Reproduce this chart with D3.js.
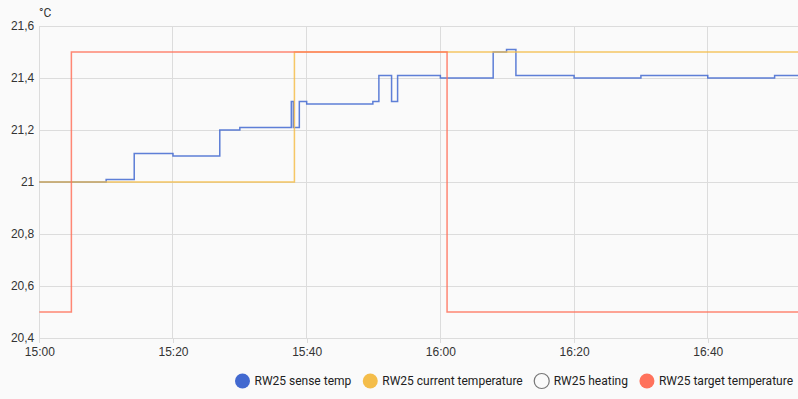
<!doctype html>
<html lang="en">
<head>
  <meta charset="utf-8">
  <title>RW25 temperatures</title>
  <style>
body {
  margin: 0;
  background: #fafafa;
}
svg {
  display: block;
  font-family: Roboto, sans-serif;
}
.grid line {
  stroke: #dcdcdc;
  shape-rendering: crispEdges;
}
.axis text {
  font-size: 12px;
  fill: #333;
}
.axis path {
  display: none;
}
.axis line {
  stroke: #dcdcdc;
  shape-rendering: crispEdges;
}
.series {
  fill: none;
  stroke-width: 1.5;
  stroke-opacity: 0.85;
}
.legend text {
  font-size: 12px;
  fill: #212121;
}
  </style>
</head>
<body>
  <script src="https://cdnjs.cloudflare.com/ajax/libs/d3/7.8.5/d3.min.js"></script>
  <script>
// step series, times on 2024-01-01 (UTC), values in °C
var senseTimes = ["15:00:00", "15:10:00", "15:14:12", "15:20:00", "15:27:00", "15:30:00",
  "15:37:42", "15:38:00", "15:38:54", "15:40:00", "15:49:54", "15:50:48", "15:52:42",
  "15:53:36", "16:00:00", "16:07:54", "16:09:54", "16:11:18", "16:20:00", "16:30:00",
  "16:40:00", "16:50:00", "16:53:30"];
var senseValues = [21.00, 21.01, 21.11, 21.10, 21.20, 21.21,
  21.31, 21.21, 21.31, 21.30, 21.31, 21.41, 21.31,
  21.41, 21.40, 21.50, 21.51, 21.41, 21.40, 21.41,
  21.40, 21.41, 21.41];

var currentTimes = ["15:00:00", "15:38:10", "16:53:30"];
var currentValues = [21.0, 21.5, 21.5];

var targetTimes = ["15:00:00", "15:04:48", "16:01:00", "16:53:30"];
var targetValues = [20.5, 21.5, 20.5, 20.5];

var yTicks = [20.4, 20.6, 20.8, 21, 21.2, 21.4, 21.6];
var legendNames = ["RW25 sense temp", "RW25 current temperature", "RW25 heating", "RW25 target temperature"];
var legendColors = ["#4269d0", "#f4bd4a", null, "#ff725c"];
var lineColors = ["#4269d0", "#f4bd4a", "#ff725c"];

var W = 798, H = 399;
var margin = {top: 26, right: 0, bottom: 61, left: 39.3};

function t(s) { return new Date("2024-01-01T" + s + "Z"); }
function pairs(times, values) {
  return times.map(function(s, i) { return {t: t(s), v: values[i]}; });
}

var svg = d3.select("body").append("svg")
    .attr("width", W)
    .attr("height", H);

var x = d3.scaleUtc()
    .domain([t("15:00:00"), t("16:53:30")])
    .range([margin.left, W - margin.right]);
var y = d3.scaleLinear()
    .domain([20.4, 21.6])
    .range([H - margin.bottom, margin.top]);

var fmtY = function(d) { return d3.format("~g")(d).replace(".", ","); };

// grid
svg.append("g")
    .attr("class", "grid")
    .selectAll("line")
    .data(yTicks)
    .enter().append("line")
    .attr("x1", margin.left).attr("x2", W)
    .attr("y1", function(d) { return Math.round(y(d)) + 0.5; })
    .attr("y2", function(d) { return Math.round(y(d)) + 0.5; });

var xTicks = x.ticks(d3.utcMinute.every(20));
svg.append("g")
    .attr("class", "grid")
    .selectAll("line")
    .data(xTicks)
    .enter().append("line")
    .attr("x1", function(d) { return x(d); })
    .attr("x2", function(d) { return x(d); })
    .attr("y1", margin.top)
    .attr("y2", H - margin.bottom);

// axes
svg.append("g")
    .attr("class", "axis")
    .attr("transform", "translate(0," + (H - margin.bottom) + ")")
    .call(d3.axisBottom(x).tickValues(xTicks).tickSize(5).tickPadding(4)
      .tickFormat(d3.utcFormat("%H:%M")));

svg.append("g")
    .attr("class", "axis")
    .attr("transform", "translate(" + margin.left + ",0)")
    .call(d3.axisLeft(y).tickValues(yTicks).tickSize(0).tickPadding(5).tickFormat(fmtY));

svg.append("text")
    .attr("x", 39)
    .attr("y", 17)
    .attr("font-size", 12)
    .attr("fill", "#333")
    .text("°C");

// lines
var line = d3.line()
    .curve(d3.curveStepAfter)
    .x(function(d) { return x(d.t); })
    .y(function(d) { return y(d.v); });

var series = [pairs(senseTimes, senseValues), pairs(currentTimes, currentValues), pairs(targetTimes, targetValues)];
svg.selectAll(".series")
    .data(series)
    .enter().append("path")
    .attr("class", "series")
    .attr("stroke", function(d, i) { return lineColors[i]; })
    .attr("d", line);

// legend, laid out then right aligned
var legend = svg.append("g").attr("class", "legend");
var items = legend.selectAll("g")
    .data(legendNames)
    .enter().append("g");
items.append("circle")
    .attr("cx", 8).attr("cy", 0).attr("r", 7.5)
    .attr("fill", function(d, i) { return legendColors[i] || "none"; })
    .attr("stroke", function(d, i) { return legendColors[i] ? "none" : "#777"; })
    .attr("stroke-width", 1.2);
items.append("text")
    .attr("x", 20)
    .attr("dy", "0.35em")
    .attr("fill", function(d, i) { return legendColors[i] ? "#212121" : "#777"; })
    .text(function(d) { return d; });

var pos = 0;
items.each(function() {
  var w = 20 + d3.select(this).select("text").node().getComputedTextLength();
  d3.select(this).attr("data-x", pos);
  pos += w + 11;
});
var total = pos - 11;
var start = 793 - total;
items.attr("transform", function() {
  return "translate(" + (start + (+d3.select(this).attr("data-x"))) + ",381)";
});
  </script>
</body>
</html>
